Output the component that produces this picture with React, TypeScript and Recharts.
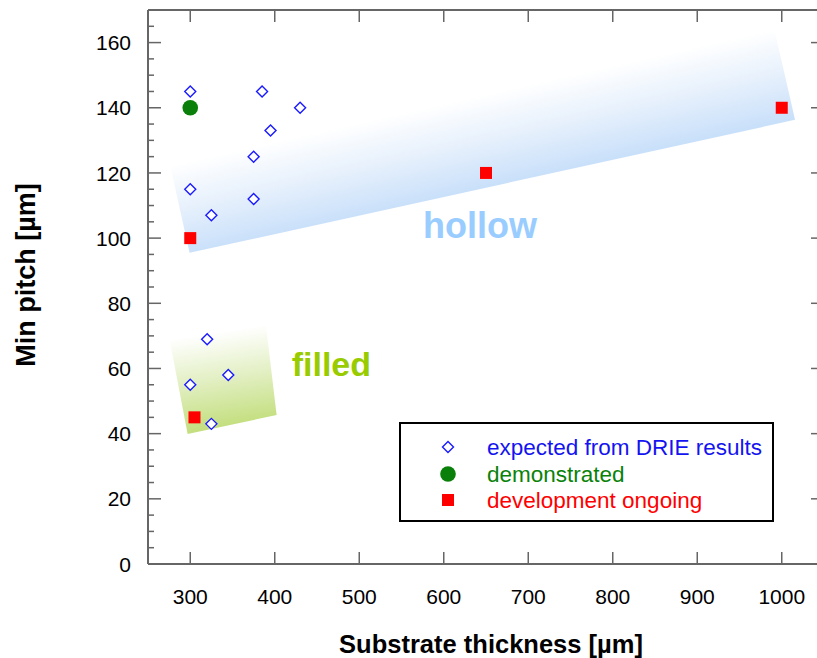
import { Legend, ReferenceArea, ReferenceDot, Scatter, ScatterChart, XAxis, YAxis } from 'recharts'

// axis ticks
const thicknessTicks = [300, 400, 500, 600, 700, 800, 900, 1000]
const pitchTicks = [0, 5, 10, 15, 20, 25, 30, 35, 40, 45, 50, 55, 60, 65, 70, 75, 80, 85, 90, 95, 100, 105, 110, 115, 120, 125, 130, 135, 140, 145, 150, 155, 160, 165]
const pitchLabels = [0, 20, 40, 60, 80, 100, 120, 140, 160]

// series
const drieThickness = [300, 385, 430, 395, 375, 300, 375, 325, 320, 345, 300, 325]
const driePitch = [145, 145, 140, 133, 125, 115, 112, 107, 69, 58, 55, 43]
const demoThickness = [300]
const demoPitch = [140]
const devThickness = [300, 305, 650, 1000]
const devPitch = [100, 45, 120, 140]

// shaded regions (corners: top-left, bottom-left, bottom-right, top-right)
const hollowX = [269.6, 299.2, 1015.7, 986]
const hollowY = [130, 95.5, 136.3, 170]
const filledX = [270.7, 296.9, 402.2, 386]
const filledY = [75.4, 39.9, 45.7, 81]

const legendNames = ['expected from DRIE results', 'demonstrated', 'development ongoing']
const legendColors = ['#1414f0', '#0a820a', '#ff0000']

const FONT = '"Liberation Sans", Arial, sans-serif'
const AXIS = '#666'

const toPoints = (xs: number[], ys: number[]) => xs.map((x, i) => ({ thickness: x, pitch: ys[i] }))
const drie = toPoints(drieThickness, driePitch)
const demo = toPoints(demoThickness, demoPitch)
const dev = toPoints(devThickness, devPitch)

const Diamond = ({ cx, cy }: any) => (
  <path
    d={`M${cx},${cy - 5.5}L${cx + 5.5},${cy}L${cx},${cy + 5.5}L${cx - 5.5},${cy}Z`}
    fill="#fff"
    stroke="#1a1aff"
    strokeWidth={1.4}
  />
)
const Dot = ({ cx, cy }: any) => <circle cx={cx} cy={cy} r={7.8} fill="#0a800a" />
const Square = ({ cx, cy }: any) => <rect x={cx - 6} y={cy - 6} width={12} height={12} fill="#ff0000" />

const regionShape = (xs: number[], ys: number[], id: string, color: string, mid: string) => (props: any) => {
  const { x, y, width, height } = props
  const x1 = Math.min(...xs)
  const x2 = Math.max(...xs)
  const y1 = Math.min(...ys)
  const y2 = Math.max(...ys)
  const px = xs.map((v) => x + ((v - x1) / (x2 - x1)) * width)
  const py = ys.map((v) => y + ((y2 - v) / (y2 - y1)) * height)
  const pts = px.map((p, i) => `${p},${py[i]}`).join(' ')
  return (
    <g>
      <defs>
        <linearGradient
          id={id}
          gradientUnits="userSpaceOnUse"
          x1={(px[0] + px[3]) / 2}
          y1={(py[0] + py[3]) / 2}
          x2={(px[1] + px[2]) / 2}
          y2={(py[1] + py[2]) / 2}
        >
          <stop offset="0" stopColor="#ffffff" />
          <stop offset="0.2" stopColor="#ffffff" />
          <stop offset="0.6" stopColor={mid} />
          <stop offset="1" stopColor={color} />
        </linearGradient>
      </defs>
      <polygon points={pts} fill={`url(#${id})`} />
    </g>
  )
}

const BottomTick = ({ x, y, payload }: any) => (
  <g>
    <line x1={x} y1={y} x2={x} y2={y - 12} stroke={AXIS} strokeWidth={1.5} />
    <text x={x} y={y + 40} textAnchor="middle" fontSize={21} fontFamily={FONT} fill="#000">
      {payload.value}
    </text>
  </g>
)
const TopTick = ({ x, y }: any) => <line x1={x} y1={y} x2={x} y2={y + 12} stroke={AXIS} strokeWidth={1.5} />

const LeftTick = ({ x, y, payload }: any) => {
  const major = pitchLabels.includes(payload.value)
  return (
    <g>
      <line x1={x} y1={y} x2={x + (major ? 13 : 6)} y2={y} stroke={AXIS} strokeWidth={1.5} />
      {major && (
        <text x={x - 17} y={y} dy="0.36em" textAnchor="end" fontSize={21} fontFamily={FONT} fill="#000">
          {payload.value}
        </text>
      )}
    </g>
  )
}
const RightTick = ({ x, y, payload }: any) => {
  const major = pitchLabels.includes(payload.value)
  return <line x1={x} y1={y} x2={x - (major ? 13 : 6)} y2={y} stroke={AXIS} strokeWidth={1.5} />
}

const RegionLabel = (text: string, color: string, size: number) => ({ cx, cy }: any) => (
  <text x={cx} y={cy} textAnchor="middle" fontSize={size} fontWeight="bold" fontFamily={FONT} fill={color}>
    {text}
  </text>
)

const LegendBox = () => (
  <svg width={375} height={100} style={{ display: 'block' }}>
    <rect x={1} y={1} width={373} height={98} fill="#fff" stroke="#000" strokeWidth={2} />
    <Diamond cx={49} cy={25} />
    <Dot cx={49} cy={52} />
    <Square cx={49} cy={78} />
    {legendNames.map((name, i) => (
      <text key={name} x={88} y={25 + i * 26.5} dy="0.36em" fontSize={22.5} fontFamily={FONT} fill={legendColors[i]}>
        {name}
      </text>
    ))}
  </svg>
)

export default function App() {
  return (
    <div style={{ position: 'fixed', left: 0, top: 0, width: 817, height: 658, overflow: 'hidden', background: '#fff' }}>
      <ScatterChart width={830} height={658} margin={{ top: 0, right: 0, bottom: 0, left: 0 }}>
        <XAxis
          type="number"
          dataKey="thickness"
          domain={[250, 1050]}
          ticks={thicknessTicks}
          height={94}
          tickSize={0}
          tickMargin={0}
          tick={BottomTick}
          axisLine={{ stroke: AXIS, strokeWidth: 2 }}
          allowDataOverflow
          label={(props: any) => {
            const vb = props.viewBox
            return (
              <text x={vb.x + vb.width / 2 + 5} y={vb.y + 89} textAnchor="middle" fontSize={25.5} fontWeight="bold" fontFamily={FONT} fill="#000">
                Substrate thickness [µm]
              </text>
            )
          }}
        />
        <XAxis
          xAxisId="top"
          orientation="top"
          type="number"
          dataKey="thickness"
          domain={[250, 1050]}
          ticks={thicknessTicks}
          height={10}
          tickSize={0}
          tickMargin={0}
          tick={TopTick}
          axisLine={{ stroke: AXIS, strokeWidth: 2 }}
          allowDataOverflow
        />
        <YAxis
          type="number"
          dataKey="pitch"
          domain={[0, 170]}
          ticks={pitchTicks}
          width={148}
          tickSize={0}
          tickMargin={0}
          tick={LeftTick}
          interval={0}
          axisLine={{ stroke: AXIS, strokeWidth: 2 }}
          allowDataOverflow
          label={(props: any) => {
            const vb = props.viewBox
            const cy = vb.y + vb.height / 2 - 12
            return (
              <text x={35} y={cy} transform={`rotate(-90, 35, ${cy})`} textAnchor="middle" fontSize={27} fontWeight="bold" fontFamily={FONT} fill="#000">
                Min pitch [µm]
              </text>
            )
          }}
        />
        <YAxis
          yAxisId="right"
          orientation="right"
          type="number"
          dataKey="pitch"
          domain={[0, 170]}
          ticks={pitchTicks}
          width={6}
          tickSize={0}
          tickMargin={0}
          tick={RightTick}
          interval={0}
          axisLine={{ stroke: AXIS, strokeWidth: 2 }}
          allowDataOverflow
        />
        <ReferenceArea
          x1={Math.min(...hollowX)}
          x2={Math.max(...hollowX)}
          y1={Math.min(...hollowY)}
          y2={Math.max(...hollowY)}
          ifOverflow="hidden"
          shape={regionShape(hollowX, hollowY, 'hollowGrad', '#c9e0fa', '#e6f0fc')}
        />
        <ReferenceArea
          x1={Math.min(...filledX)}
          x2={Math.max(...filledX)}
          y1={Math.min(...filledY)}
          y2={Math.max(...filledY)}
          ifOverflow="hidden"
          shape={regionShape(filledX, filledY, 'filledGrad', '#c4df80', '#e2efc2')}
        />
        <ReferenceDot x={643} y={100} r={0} shape={RegionLabel('hollow', '#99ccff', 36)} />
        <ReferenceDot x={467} y={57.7} r={0} shape={RegionLabel('filled', '#99cc00', 34)} />
        <Scatter name={legendNames[0]} data={drie} shape={<Diamond />} isAnimationActive={false} />
        <Scatter name={legendNames[1]} data={demo} shape={<Dot />} isAnimationActive={false} />
        <Scatter name={legendNames[2]} data={dev} shape={<Square />} isAnimationActive={false} />
        <Legend
          layout="vertical"
          align="center"
          verticalAlign="middle"
          content={() => <LegendBox />}
          wrapperStyle={{ position: 'absolute', left: 399, top: 422, width: 375, height: 100 }}
        />
      </ScatterChart>
    </div>
  )
}
